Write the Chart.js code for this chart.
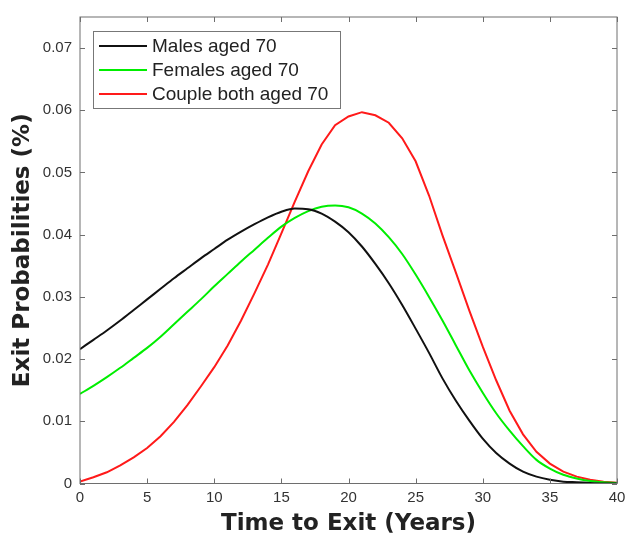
<!DOCTYPE html>
<html>
<head>
<meta charset="utf-8">
<script src="https://cdn.jsdelivr.net/npm/chart.js@4.4.1/dist/chart.umd.min.js"></script>
<style>
  html, body { margin: 0; padding: 0; background: #fff; }
  #wrap { width: 625px; height: 538px; }
</style>
</head>
<body>
<div id="wrap"><canvas id="myChart" width="625" height="538"></canvas></div>
<script>
// time axis (years)
var years = [0,1,2,3,4,5,6,7,8,9,10,11,12,13,14,15,16,17,18,19,20,21,22,23,24,25,26,27,28,29,30,31,32,33,34,35,36,37,38,39,40];
// exit probabilities
var males = [0.0216,0.0231,0.0246,0.0262,0.0279,0.0296,0.0313,0.0330,0.0346,0.0362,0.0377,0.0392,0.0405,0.0417,0.0428,0.0437,0.0442,0.0441,0.0434,0.0421,0.0404,0.0381,0.0353,0.0322,0.0287,0.0249,0.0210,0.0169,0.0133,0.0101,0.0072,0.0049,0.0032,0.0019,0.0011,0.0006,0.0003,0.0002,0.0001,0.0000,0.0000];
var females = [0.0144,0.0157,0.0171,0.0186,0.0202,0.0218,0.0236,0.0256,0.0276,0.0296,0.0317,0.0337,0.0357,0.0376,0.0395,0.0413,0.0427,0.0438,0.0445,0.0447,0.0444,0.0434,0.0418,0.0396,0.0369,0.0336,0.0300,0.0262,0.0222,0.0182,0.0146,0.0113,0.0085,0.0060,0.0038,0.0024,0.0014,0.0008,0.0004,0.0002,0.0001];
var couple = [0.0003,0.0010,0.0018,0.0029,0.0042,0.0057,0.0076,0.0099,0.0126,0.0156,0.0187,0.0222,0.0262,0.0306,0.0352,0.0402,0.0453,0.0502,0.0545,0.0576,0.0590,0.0597,0.0592,0.0580,0.0555,0.0518,0.0463,0.0399,0.0339,0.0278,0.0220,0.0166,0.0117,0.0079,0.0051,0.0032,0.0019,0.0011,0.0006,0.0003,0.0001];
var xTicks = [0,5,10,15,20,25,30,35,40];
var yTicks = [0,0.01,0.02,0.03,0.04,0.05,0.06,0.07];

function pts(arr) {
  return years.map(function (t, i) { return { x: t, y: arr[i] }; });
}

// box round the axes with inward ticks on all four sides
var frame = {
  id: 'frame',
  afterDatasetsDraw: function (chart) {
    var ctx = chart.ctx, a = chart.chartArea;
    var xs = chart.scales.x, ys = chart.scales.y;
    ctx.save();
    ctx.strokeStyle = '#6e6e6e';
    ctx.lineWidth = 1;
    ctx.strokeRect(a.left, a.top, a.right - a.left, a.bottom - a.top);
    ctx.beginPath();
    xTicks.forEach(function (v) {
      var px = Math.round(xs.getPixelForValue(v)) + 0.5;
      ctx.moveTo(px, a.bottom); ctx.lineTo(px, a.bottom - 5);
      ctx.moveTo(px, a.top); ctx.lineTo(px, a.top + 5);
    });
    yTicks.forEach(function (v) {
      var py = Math.round(ys.getPixelForValue(v)) + 0.5;
      ctx.moveTo(a.left, py); ctx.lineTo(a.left + 5, py);
      ctx.moveTo(a.right, py); ctx.lineTo(a.right - 5, py);
    });
    ctx.stroke();
    ctx.restore();
  }
};

// legend drawn inside the plot, top left
var boxLegend = {
  id: 'boxLegend',
  afterDraw: function (chart) {
    var ctx = chart.ctx, a = chart.chartArea;
    var x0 = a.left + 13, y0 = a.top + 14, w = 247, h = 77;
    ctx.save();
    ctx.fillStyle = '#fff';
    ctx.fillRect(x0, y0, w, h);
    ctx.strokeStyle = '#777';
    ctx.lineWidth = 1;
    ctx.strokeRect(x0 + 0.5, y0 + 0.5, w, h);
    ctx.font = '19px "Liberation Sans", Arial, sans-serif';
    ctx.textBaseline = 'middle';
    chart.data.datasets.forEach(function (ds, i) {
      var yy = y0 + 15 + i * 24;
      ctx.strokeStyle = ds.borderColor;
      ctx.lineWidth = 2;
      ctx.beginPath();
      ctx.moveTo(x0 + 6, yy); ctx.lineTo(x0 + 54, yy);
      ctx.stroke();
      ctx.fillStyle = '#222';
      ctx.fillText(ds.label, x0 + 59, yy + 1);
    });
    ctx.restore();
  }
};

var ctx = document.getElementById('myChart');
var myChart = new Chart(ctx, {
  type: 'line',
  data: {
    datasets: [
      { label: 'Males aged 70', data: pts(males), borderColor: '#111111', borderWidth: 2, pointRadius: 0, fill: false, cubicInterpolationMode: 'monotone' },
      { label: 'Females aged 70', data: pts(females), borderColor: '#00ee00', borderWidth: 2, pointRadius: 0, fill: false, cubicInterpolationMode: 'monotone' },
      { label: 'Couple both aged 70', data: pts(couple), borderColor: '#ff1a1a', borderWidth: 2, pointRadius: 0, fill: false, tension: 0 }
    ]
  },
  options: {
    responsive: false,
    animation: false,
    layout: { padding: { top: 15, right: 8, left: 0, bottom: 0 } },
    plugins: { legend: { display: false }, tooltip: { enabled: false } },
    scales: {
      x: {
        type: 'linear', min: 0, max: 40,
        afterBuildTicks: function (s) { s.ticks = xTicks.map(function (v) { return { value: v }; }); },
        afterFit: function (s) { s.height = 54.5; s.paddingLeft = 0; s.paddingRight = 0; },
        grid: { display: false, drawTicks: false },
        border: { display: false },
        ticks: { padding: 5, color: '#333', font: { family: '"Liberation Sans", Arial, sans-serif', size: 15 }, maxRotation: 0 },
        title: { display: true, text: 'Time to Exit (Years)', color: '#222', padding: { top: 0, bottom: 0 }, font: { family: '"DejaVu Sans", sans-serif', size: 23, weight: 'bold' } }
      },
      y: {
        min: 0, max: 0.075,
        afterBuildTicks: function (s) { s.ticks = yTicks.map(function (v) { return { value: v }; }); },
        afterFit: function (s) { s.width = 80; },
        grid: { display: false, drawTicks: false },
        border: { display: false },
        ticks: {
          padding: 8, color: '#333',
          font: { family: '"Liberation Sans", Arial, sans-serif', size: 15 },
          callback: function (v) { return v === 0 ? '0' : v.toFixed(2); }
        },
        title: { display: true, text: 'Exit Probabilities (%)', color: '#222', padding: { top: 9, bottom: 0 }, font: { family: '"DejaVu Sans", sans-serif', size: 23, weight: 'bold' } }
      }
    }
  },
  plugins: [frame, boxLegend]
});
</script>
</body>
</html>
